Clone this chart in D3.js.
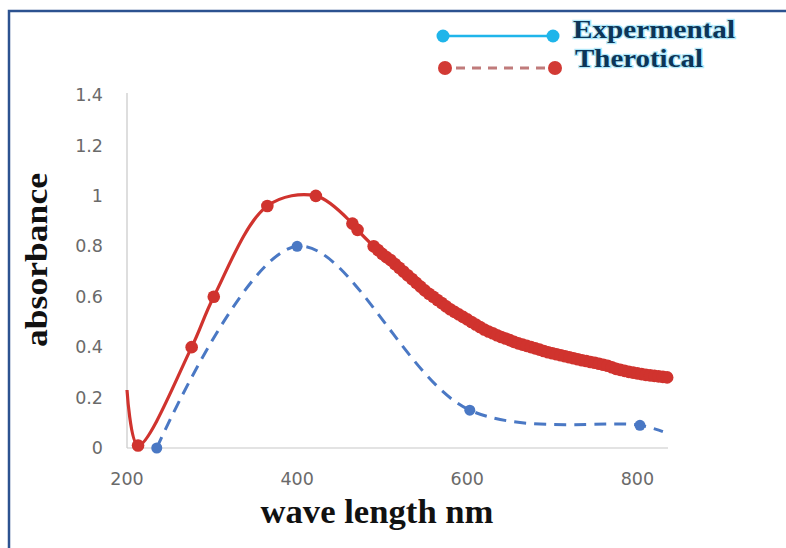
<!DOCTYPE html>
<html>
<head>
<meta charset="utf-8">
<script src="https://cdn.jsdelivr.net/npm/d3@7"></script>
<style>
  html, body { margin: 0; padding: 0; background: #fff; }
  svg { display: block; }
  .tick-label { font-family: "DejaVu Sans", sans-serif; font-size: 17.5px; fill: #6a6a6a; }
  .title { font-family: "Liberation Serif", "Times New Roman", serif; font-weight: bold; fill: #111; }
  .legend-text { font-family: "Liberation Serif", "Times New Roman", serif; font-weight: bold; font-size: 26px;
                 fill: #0c3558; stroke: #6fd6f7; stroke-width: 2.5; stroke-opacity: 0.55; paint-order: stroke; }
</style>
</head>
<body>
<div id="chart"></div>
<script>
// ── Data ───────────────────────────────────────────────────────────────────
const xTicks = [200, 400, 600, 800];
const yTicks = [0, 0.2, 0.4, 0.6, 0.8, 1, 1.2, 1.4];

// Theoretical (red, solid, dense markers along the tail)
const theoWl  = [200, 213, 276, 302, 365, 422, 465, 471,
                 490, 495, 500, 505, 510, 515, 520, 525, 530, 535, 540, 545, 550, 555,
                 560, 565, 570, 575, 580, 585, 590, 595, 600, 605, 610, 615, 620, 625,
                 630, 635, 640, 645, 650, 655, 660, 665, 670, 675, 680, 685, 690, 695,
                 700, 705, 710, 715, 720, 725, 730, 735, 740, 745, 750, 755, 760, 765,
                 770, 775, 780, 785, 790, 795, 800, 805, 810, 815, 820, 825, 830, 835];
const theoAbs = [0.23, 0.01, 0.40, 0.60, 0.96, 1.00, 0.89, 0.865,
                 0.80, 0.785, 0.77, 0.757, 0.745, 0.73, 0.715, 0.70, 0.685, 0.67, 0.655, 0.64, 0.625, 0.612,
                 0.60, 0.587, 0.575, 0.562, 0.55, 0.54, 0.53, 0.52, 0.51, 0.50, 0.49, 0.48, 0.47, 0.462,
                 0.455, 0.447, 0.44, 0.434, 0.428, 0.421, 0.415, 0.41, 0.405, 0.40, 0.395, 0.39, 0.385, 0.38,
                 0.376, 0.372, 0.368, 0.364, 0.36, 0.356, 0.352, 0.348, 0.345, 0.341, 0.338, 0.334, 0.33, 0.326,
                 0.32, 0.314, 0.31, 0.306, 0.302, 0.299, 0.296, 0.293, 0.29, 0.288, 0.286, 0.284, 0.282, 0.28];

// Experimental (blue, dashed)
const expWl  = [235, 400, 603, 803, 830];
const expAbs = [0.00, 0.80, 0.15, 0.09, 0.065];
const expMarked = [true, true, true, true, false];

const legendLabels = ["Expermental", "Therotical"];

// ── Layout ────────────────────────────────────────────────────────────────
const W = 786, H = 548;
const svg = d3.select("#chart").append("svg").attr("width", W).attr("height", H);

// outer frame
svg.append("rect")
  .attr("x", 9).attr("y", 11).attr("width", 820).attr("height", 600)
  .attr("fill", "none").attr("stroke", "#2c5290").attr("stroke-width", 2.5);

const x = d3.scaleLinear().domain([200, 836]).range([127, 668]);
const y = d3.scaleLinear().domain([0, 1.4]).range([448, 95]);

// ── Axes ──────────────────────────────────────────────────────────────────
svg.append("line")
  .attr("x1", x(200)).attr("x2", x(200)).attr("y1", y(1.4) - 2).attr("y2", y(0))
  .attr("stroke", "#c8c8c8").attr("stroke-width", 1.2);
svg.append("line")
  .attr("x1", x(200)).attr("x2", x(836)).attr("y1", y(0)).attr("y2", y(0))
  .attr("stroke", "#c8c8c8").attr("stroke-width", 1.2);

svg.selectAll(".ytl").data(yTicks).join("text")
  .attr("class", "tick-label")
  .attr("x", 103).attr("y", d => y(d)).attr("dy", "0.35em")
  .attr("text-anchor", "end")
  .text(d => d);

svg.selectAll(".xtl").data(xTicks).join("text")
  .attr("class", "tick-label")
  .attr("x", d => x(d)).attr("y", 485)
  .attr("text-anchor", "middle")
  .text(d => d);

// axis titles
svg.append("text").attr("class", "title")
  .attr("x", 377).attr("y", 523).attr("text-anchor", "middle")
  .attr("font-size", 33).attr("textLength", 233).attr("lengthAdjust", "spacingAndGlyphs")
  .text("wave length nm");

svg.append("text").attr("class", "title")
  .attr("transform", "translate(47,260) rotate(-90)")
  .attr("text-anchor", "middle")
  .attr("font-size", 32).attr("textLength", 174).attr("lengthAdjust", "spacingAndGlyphs")
  .text("absorbance");

// ── Series ────────────────────────────────────────────────────────────────
const RED = "#d0332e", BLUE = "#4a78c4";
const theo = theoWl.map((w, i) => ({ w, a: theoAbs[i] }));
const exp  = expWl.map((w, i) => ({ w, a: expAbs[i], m: expMarked[i] }));

const line = d3.line().x(d => x(d.w)).y(d => y(d.a)).curve(d3.curveCatmullRom.alpha(0.5));

svg.append("path").datum(exp)
  .attr("fill", "none").attr("stroke", BLUE).attr("stroke-width", 3)
  .attr("stroke-dasharray", "12,8").attr("d", line);
svg.selectAll(".expDot").data(exp.filter(d => d.m)).join("circle")
  .attr("cx", d => x(d.w)).attr("cy", d => y(d.a)).attr("r", 5.5)
  .attr("fill", BLUE);

svg.append("path").datum(theo)
  .attr("fill", "none").attr("stroke", RED).attr("stroke-width", 3.2)
  .attr("d", line);
svg.selectAll(".theoDot").data(theo.filter(d => d.w > 200)).join("circle")
  .attr("cx", d => x(d.w)).attr("cy", d => y(d.a)).attr("r", 6.3)
  .attr("fill", RED);

// ── Legend ────────────────────────────────────────────────────────────────
const lg = svg.append("g");
lg.append("line").attr("x1", 443).attr("x2", 553).attr("y1", 36).attr("y2", 36)
  .attr("stroke", "#1fb5ea").attr("stroke-width", 2.5);
[443, 553].forEach(cx => lg.append("circle").attr("cx", cx).attr("cy", 36).attr("r", 6.5).attr("fill", "#1fb5ea"));

lg.append("line").attr("x1", 456).attr("x2", 546).attr("y1", 68).attr("y2", 68)
  .attr("stroke", "#c07b7b").attr("stroke-width", 3).attr("stroke-dasharray", "9,7");
[445, 555].forEach(cx => lg.append("circle").attr("cx", cx).attr("cy", 68).attr("r", 7).attr("fill", "#d23a35"));

lg.append("text").attr("class", "legend-text")
  .attr("x", 573).attr("y", 38).attr("textLength", 162).attr("lengthAdjust", "spacingAndGlyphs")
  .text(legendLabels[0]);
lg.append("text").attr("class", "legend-text")
  .attr("x", 575).attr("y", 67).attr("textLength", 128).attr("lengthAdjust", "spacingAndGlyphs")
  .text(legendLabels[1]);
</script>
</body>
</html>
